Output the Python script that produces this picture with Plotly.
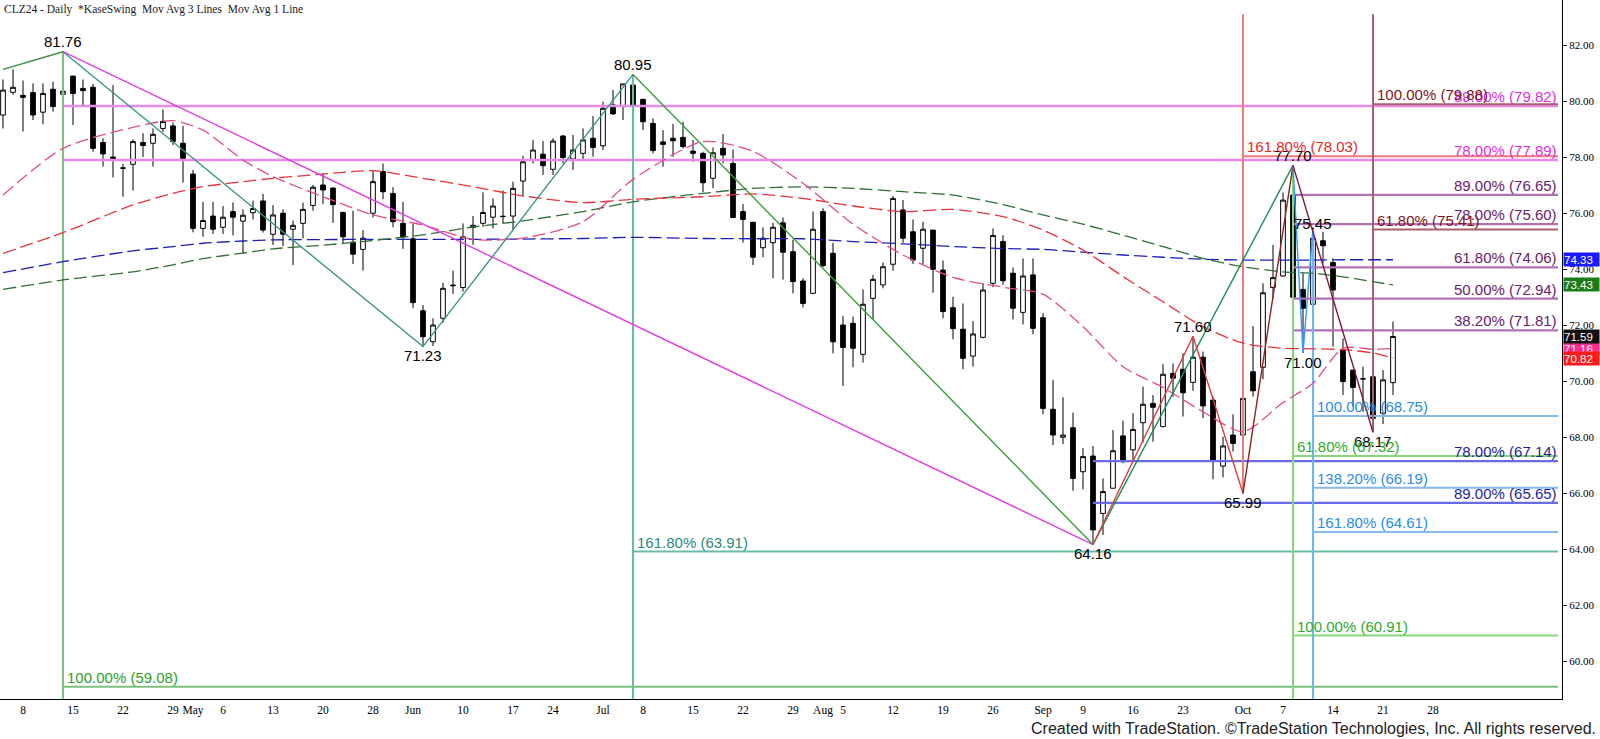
import plotly.graph_objects as go
import pandas as pd

# ---------------- data ----------------
holidays = ["2024-05-27", "2024-06-19", "2024-07-04", "2024-09-02"]
session_dates = [d.strftime("%Y-%m-%d") for d in pd.bdate_range("2024-04-04", "2024-11-29")
                 if d.strftime("%Y-%m-%d") not in holidays]

opens = [79.50, 80.31, 80.20, 80.30, 79.60, 80.42, 80.24, 80.89, 80.45, 80.49,
         78.52, 78.00, 77.61, 77.74, 78.52, 78.49, 79.02, 79.11, 78.49, 77.39,
         75.45, 75.89, 75.49, 76.05, 75.71, 76.01, 76.43, 75.24, 75.99, 75.42,
         75.63, 76.27, 77.00, 76.89, 76.02, 74.96, 74.70, 75.99, 77.48, 76.70,
         75.63, 75.08, 72.51, 71.40, 72.24, 73.40, 73.34, 75.48, 75.63, 75.85,
         75.87, 75.89, 77.14, 77.89, 78.10, 77.56, 78.75, 77.93, 78.13, 78.67,
         78.40, 79.86, 79.80, 80.57, 80.06, 79.20, 78.54, 78.67, 78.70, 78.21,
         78.13, 77.24, 78.31, 77.77, 76.05, 75.67, 74.76, 74.94, 75.65, 74.62,
         73.57, 73.13, 76.05, 74.56, 72.00, 72.06, 70.95, 72.95, 73.43, 74.17,
         76.11, 75.33, 74.74, 75.39, 73.96, 72.62, 71.85, 70.89, 71.56, 73.49,
         74.98, 73.85, 72.45, 73.79, 72.26, 68.99, 67.99, 68.33, 66.76, 67.32,
         65.27, 66.17, 68.04, 67.54, 68.51, 69.20, 68.37, 70.27, 70.42, 69.95,
         70.85, 69.32, 66.96, 68.07, 68.07, 70.33, 70.49, 73.34, 73.75, 76.64,
         73.27, 72.74, 75.01, 74.23, 71.11, 70.39, 70.07, 70.15, 68.85, 69.94]
highs = [80.77, 81.13, 80.73, 80.63, 80.63, 80.69, 81.76, 80.89, 80.77, 80.61,
         78.67, 80.57, 77.75, 78.63, 78.85, 79.02, 79.70, 79.23, 79.11, 77.54,
         76.40, 76.40, 76.25, 76.38, 76.13, 76.44, 76.68, 76.28, 76.13, 75.73,
         76.37, 77.00, 77.42, 76.92, 76.05, 76.08, 75.39, 77.51, 77.77, 76.92,
         76.40, 75.61, 72.71, 72.24, 73.51, 73.94, 75.63, 75.89, 76.74, 76.52,
         76.80, 77.12, 78.04, 78.61, 78.57, 78.67, 78.79, 78.79, 79.02, 79.46,
         79.98, 80.39, 80.61, 80.95, 80.06, 79.38, 78.96, 79.18, 79.26, 78.61,
         78.19, 78.34, 78.82, 78.27, 76.32, 75.67, 75.49, 75.65, 75.84, 75.04,
         73.67, 76.05, 76.17, 74.94, 72.32, 72.30, 73.27, 73.79, 74.23, 76.61,
         76.46, 75.77, 75.69, 75.39, 74.30, 73.01, 72.77, 72.14, 73.49, 75.45,
         75.21, 74.05, 74.38, 74.38, 72.42, 70.04, 69.42, 68.87, 67.60, 67.68,
         66.52, 68.25, 68.58, 68.85, 69.80, 69.50, 70.60, 70.63, 70.99, 71.60,
         71.05, 69.44, 68.01, 68.81, 71.35, 71.96, 73.49, 74.86, 76.73, 77.70,
         73.85, 75.45, 75.33, 74.38, 71.52, 70.39, 70.51, 70.51, 70.39, 72.12]
lows = [79.02, 80.22, 78.91, 79.32, 79.17, 79.62, 80.04, 79.14, 79.82, 78.19,
        77.66, 77.27, 76.58, 76.80, 78.00, 77.66, 78.90, 78.43, 77.08, 75.31,
        75.15, 75.25, 75.25, 75.20, 74.54, 75.77, 75.30, 74.86, 74.82, 74.14,
        75.09, 76.08, 76.32, 75.65, 74.92, 74.18, 73.94, 75.84, 76.49, 75.49,
        74.72, 72.60, 71.23, 71.25, 72.08, 73.11, 73.19, 74.86, 75.51, 75.45,
        75.63, 75.39, 76.58, 77.77, 77.36, 77.36, 77.77, 77.54, 77.89, 78.01,
        78.25, 79.50, 79.32, 79.74, 78.96, 78.13, 77.65, 78.01, 78.31, 77.83,
        76.74, 76.88, 77.77, 75.81, 74.94, 74.14, 74.42, 73.67, 73.62, 73.13,
        72.63, 73.11, 74.06, 70.99, 69.82, 70.49, 70.66, 72.20, 73.31, 73.94,
        74.94, 74.18, 74.18, 73.15, 72.24, 71.49, 70.42, 70.51, 71.52, 73.35,
        73.43, 72.20, 72.02, 71.67, 68.81, 67.71, 67.75, 66.08, 66.13, 64.16,
        64.50, 66.17, 67.06, 67.18, 67.80, 67.83, 68.35, 69.44, 68.73, 69.65,
        68.67, 66.49, 66.56, 67.48, 65.99, 69.44, 70.06, 72.95, 73.73, 72.06,
        71.00, 72.71, 74.20, 71.23, 69.50, 69.08, 68.90, 68.17, 68.46, 69.50]
closes = [80.39, 80.49, 80.13, 79.50, 80.27, 79.80, 80.35, 80.27, 80.37, 78.31,
          78.11, 77.95, 77.60, 78.55, 78.41, 78.81, 79.27, 78.55, 77.95, 75.45,
          75.73, 75.42, 75.85, 75.85, 75.92, 76.16, 75.39, 75.93, 75.24, 75.56,
          76.13, 76.92, 76.82, 76.30, 75.15, 74.53, 75.10, 77.12, 76.76, 75.69,
          75.15, 72.80, 71.58, 72.00, 73.31, 73.42, 75.15, 75.56, 76.02, 76.25,
          75.88, 76.88, 77.83, 78.25, 77.69, 78.57, 77.98, 78.25, 78.61, 78.34,
          79.74, 79.54, 80.61, 79.82, 79.26, 78.23, 78.45, 78.58, 78.37, 78.13,
          77.08, 78.15, 78.07, 75.84, 75.77, 74.42, 75.10, 75.49, 74.60, 73.55,
          72.77, 75.42, 74.12, 71.40, 71.20, 71.17, 72.74, 73.63, 74.08, 76.52,
          75.10, 74.32, 75.42, 73.99, 72.48, 71.87, 70.81, 71.68, 73.25, 75.20,
          73.58, 72.60, 73.75, 71.88, 69.02, 68.07, 68.07, 66.52, 67.30, 64.68,
          66.05, 67.51, 67.12, 68.27, 69.17, 69.06, 70.24, 70.10, 69.58, 70.85,
          69.11, 67.15, 67.68, 67.77, 69.38, 69.65, 73.15, 73.69, 76.46, 72.99,
          72.60, 75.10, 74.83, 73.25, 69.98, 69.77, 70.08, 68.67, 70.04, 71.59]

tick_dates = ["2024-04-08", "2024-04-15", "2024-04-22", "2024-04-29", "2024-05-01", "2024-05-06",
              "2024-05-13", "2024-05-20", "2024-05-28", "2024-06-03", "2024-06-10", "2024-06-17",
              "2024-06-24", "2024-07-01", "2024-07-08", "2024-07-15", "2024-07-22", "2024-07-29",
              "2024-08-01", "2024-08-05", "2024-08-12", "2024-08-19", "2024-08-26", "2024-09-03",
              "2024-09-09", "2024-09-16", "2024-09-23", "2024-10-01", "2024-10-07", "2024-10-14",
              "2024-10-21", "2024-10-28"]
tick_text = ["8", "15", "22", "29", "May", "6", "13", "20", "28", "Jun", "10", "17", "24", "Jul",
             "8", "15", "22", "29", "Aug", "5", "12", "19", "26", "Sep", "9", "16", "23", "Oct",
             "7", "14", "21", "28"]
price_ticks = [60, 62, 64, 66, 68, 70, 72, 74, 76, 78, 80, 82]

# moving averages (at sample sessions)
ma_dates = ["2024-04-04", "2024-04-12", "2024-04-23", "2024-04-29", "2024-05-02", "2024-05-08",
            "2024-05-13", "2024-05-20", "2024-05-28", "2024-06-04", "2024-06-11", "2024-06-18",
            "2024-06-27", "2024-07-05", "2024-07-16", "2024-07-23", "2024-07-30", "2024-08-06",
            "2024-08-13", "2024-08-20", "2024-08-27", "2024-09-03", "2024-09-09", "2024-09-13",
            "2024-09-19", "2024-09-25", "2024-10-01", "2024-10-07", "2024-10-10", "2024-10-15",
            "2024-10-18", "2024-10-22"]
ma_blue = [73.87, 74.26, 74.65, 74.80, 74.92, 75.00, 75.04, 75.05, 75.06, 75.06, 75.06, 75.07,
           75.09, 75.13, 75.09, 75.08, 75.08, 74.98, 74.90, 74.80, 74.73, 74.70, 74.60, 74.50,
           74.42, 74.35, 74.32, 74.32, 74.32, 74.33, 74.33, 74.33]
ma_green = [73.27, 73.61, 73.90, 74.15, 74.37, 74.57, 74.72, 74.85, 75.02, 75.22, 75.50, 75.72,
            76.05, 76.40, 76.70, 76.88, 76.93, 76.88, 76.76, 76.64, 76.30, 75.93, 75.60, 75.21,
            74.80, 74.38, 74.08, 73.90, 73.85, 73.72, 73.55, 73.43]
ma_red = [74.56, 75.30, 76.29, 76.70, 76.94, 77.12, 77.24, 77.39, 77.51, 77.24, 76.94, 76.61,
          76.37, 76.49, 76.58, 76.68, 76.52, 76.25, 76.05, 76.13, 75.87, 75.39, 74.68, 73.73,
          72.83, 71.94, 71.35, 71.17, 71.15, 71.12, 71.00, 70.82]
ma_pink = [76.64, 78.31, 79.06, 79.30, 78.96, 77.89, 77.30, 76.58, 75.93, 75.57, 75.06, 75.10,
           75.69, 77.20, 78.55, 78.20, 77.06, 75.60, 74.50, 73.70, 73.35, 73.10, 71.94, 70.51,
           69.77, 68.90, 68.19, 69.23, 69.92, 71.17, 71.13, 71.16]
ma_last = [74.33, 73.43, 71.16, 70.82]

# swing points
swing_dates = ["2024-04-12", "2024-06-04", "2024-07-05", "2024-09-10", "2024-09-24",
               "2024-10-01", "2024-10-08", "2024-10-09", "2024-10-10", "2024-10-18"]
swing_prices = [81.76, 71.23, 80.95, 64.16, 71.60, 65.99, 77.70, 71.00, 75.45, 68.17]
swing_side = ["high", "low", "high", "low", "high", "low", "high", "low", "mid", "low"]

# swing legs
leg_names = ["prior", "teal", "magenta", "green", "green2", "red", "darkred", "blue", "maroon"]
leg_dates = [["2024-04-04", "2024-04-12"],
             ["2024-04-12", "2024-06-04", "2024-07-05"],
             ["2024-04-12", "2024-09-10"],
             ["2024-07-05", "2024-09-10"],
             ["2024-09-10", "2024-10-08"],
             ["2024-09-10", "2024-09-24", "2024-10-01"],
             ["2024-10-01", "2024-10-08"],
             ["2024-10-08", "2024-10-09", "2024-10-10"],
             ["2024-10-08", "2024-10-18"]]
leg_prices = [[81.13, 81.76],
              [81.76, 71.23, 80.95],
              [81.76, 64.16],
              [80.95, 64.16],
              [64.16, 77.70],
              [64.16, 71.60, 65.99],
              [65.99, 77.70],
              [77.70, 71.00, 75.45],
              [77.70, 68.17]]

# Fibonacci levels
fib_group = ["mag", "mag", "grn", "teal", "red", "maroon", "maroon",
             "purple", "purple", "purple", "purple", "purple",
             "lgreen", "lgreen", "lblue", "lblue", "lblue", "dblue", "dblue"]
fib_price = [79.82, 77.89, 59.08, 63.91, 78.03, 79.88, 75.41,
             76.65, 75.60, 74.06, 72.94, 71.81,
             67.32, 60.91, 68.75, 66.19, 64.61, 67.14, 65.65]
fib_text = ["89.00% (79.82)", "78.00% (77.89)", "100.00% (59.08)", "161.80% (63.91)",
            "161.80% (78.03)", "100.00% (79.88)", "61.80% (75.41)",
            "89.00% (76.65)", "78.00% (75.60)", "61.80% (74.06)", "50.00% (72.94)", "38.20% (71.81)",
            "61.80% (67.32)", "100.00% (60.91)", "100.00% (68.75)", "138.20% (66.19)",
            "161.80% (64.61)", "78.00% (67.14)", "89.00% (65.65)"]
fib_start = ["2024-04-12", "2024-04-12", "2024-04-12", "2024-07-05", "2024-10-01", "2024-10-18",
             "2024-10-18", "2024-10-08", "2024-10-08", "2024-10-08", "2024-10-08", "2024-10-08",
             "2024-10-08", "2024-10-08", "2024-10-10", "2024-10-10", "2024-10-10",
             "2024-09-10", "2024-09-10"]

# vertical anchor lines (None = chart edge)
vline_group = ["grn", "teal", "red", "lgreen", "lblue", "maroon"]
vline_date = ["2024-04-12", "2024-07-05", "2024-10-01", "2024-10-08", "2024-10-10", "2024-10-18"]
vline_from = [81.76, 80.95, None, 77.70, 75.45, None]
vline_to = [None, None, 65.99, None, None, 68.17]

# ---------------- styles ----------------
Y_MIN, Y_MAX = 58.643, 83.607
Y_TOP_LINE = 83.10
X_MIN, X_MAX = -0.3, 155.9
LEVEL_END = 155.5
SANS = "Liberation Sans, Arial, sans-serif"
SERIF = "Liberation Serif, Times New Roman, serif"

line_col = {"mag": "#E68BE6", "grn": "#7CC07C", "teal": "#68BBA8", "red": "#EC7A7A",
            "maroon": "#A6606B", "purple": "#B071B0", "lgreen": "#86D67A", "lblue": "#86BBE8",
            "dblue": "#6A6AE6"}
vline_col = dict(line_col, lblue="#6AB6F6")
text_col = {"mag": "#E22CE2", "grn": "#2E9E2E", "teal": "#2A8A7A", "red": "#E62828",
            "maroon": "#7A1420", "purple": "#6A226A", "lgreen": "#2EAA2E", "lblue": "#2A8CE6",
            "dblue": "#1E1E96"}
label_align = {"mag": "right", "grn": "left", "teal": "left", "red": "left", "maroon": "left",
               "purple": "right", "lgreen": "left", "lblue": "left", "dblue": "right"}
line_w = {"mag": 2.5, "grn": 2.2, "teal": 2, "red": 2, "maroon": 2, "purple": 2.2,
          "lgreen": 2, "lblue": 2, "dblue": 2.2}
leg_col = {"prior": "#3C8C48", "teal": "#3C9488", "magenta": "#E040E0", "green": "#3C9E3C",
           "green2": "#1E8C56", "red": "#E03C3C", "darkred": "#8C2424", "blue": "#3399FF",
           "maroon": "#7A1A36"}
ma_style = [("#1E1EB4", ma_blue), ("#2F6F3A", ma_green), ("#E8323C", ma_red), ("#E44C8C", ma_pink)]
box_col = ["#1A1AFF", "#1B7B1B", "#FF2E8C", "#FF1A1A"]

pos = {d: i for i, d in enumerate(session_dates)}
ix = lambda d: pos[d]
xi = list(range(len(opens)))

fig = go.Figure()

# horizontal fib levels
for g in line_col:
    xs, ys = [], []
    for grp, p, s in zip(fib_group, fib_price, fib_start):
        if grp == g:
            xs += [ix(s), LEVEL_END, None]
            ys += [p, p, None]
    for grp, d, a, b in zip(vline_group, vline_date, vline_from, vline_to):
        if grp == g:
            pass
    if xs:
        fig.add_trace(go.Scatter(x=xs, y=ys, mode="lines", line=dict(color=line_col[g], width=line_w[g]),
                                 hoverinfo="skip", showlegend=False))

# vertical lines
for g, d, a, b in zip(vline_group, vline_date, vline_from, vline_to):
    top = Y_TOP_LINE if a is None else a
    bot = Y_MIN if b is None else b
    fig.add_trace(go.Scatter(x=[ix(d), ix(d)], y=[top, bot], mode="lines",
                             line=dict(color=vline_col[g], width=2), hoverinfo="skip", showlegend=False))

# moving averages
ma_x = [ix(d) for d in ma_dates]
for col, vals in ma_style:
    fig.add_trace(go.Scatter(x=ma_x, y=vals, mode="lines", line=dict(color=col, width=1.3, dash="13px,5px",
                             shape="spline", smoothing=0.7), hoverinfo="skip", showlegend=False))

# swing legs
for name, ds, ps in zip(leg_names, leg_dates, leg_prices):
    fig.add_trace(go.Scatter(x=[ix(d) for d in ds], y=ps, mode="lines",
                             line=dict(color=leg_col[name], width=1.4), hoverinfo="skip", showlegend=False))

# candles
fig.add_trace(go.Candlestick(
    x=xi, open=opens, high=highs, low=lows, close=closes,
    increasing=dict(line=dict(color="black", width=1), fillcolor="white"),
    decreasing=dict(line=dict(color="black", width=1), fillcolor="black"),
    whiskerwidth=0, hoverinfo="skip", showlegend=False))

ann = []
# swing labels
for d, p, side in zip(swing_dates, swing_prices, swing_side):
    shift = {"high": 10, "low": -9, "mid": 4.5}[side]
    ann.append(dict(x=ix(d), y=p, xref="x", yref="y", text=f"{p:.2f}", showarrow=False,
                    xanchor="center", yanchor="middle", yshift=shift, borderpad=0,
                    font=dict(family=SANS, size=15, color="black")))
# fib labels
for grp, p, t, s in zip(fib_group, fib_price, fib_text, fib_start):
    if label_align[grp] == "left":
        ann.append(dict(x=ix(s), y=p, xref="x", yref="y", text=t, showarrow=False, xanchor="left",
                        xshift=3, yanchor="middle", yshift=9.5, borderpad=0,
                        font=dict(family=SANS, size=15, color=text_col[grp])))
    else:
        ann.append(dict(x=LEVEL_END, y=p, xref="x", yref="y", text=t, showarrow=False, xanchor="right",
                        yanchor="middle", yshift=9.5, borderpad=0,
                        font=dict(family=SANS, size=15, color=text_col[grp])))
# last-value boxes on the price scale
for v, c in zip(ma_last, box_col):
    ann.append(dict(x=1.0006, y=v, xref="paper", yref="y", text=f"{v:.2f}", showarrow=False,
                    xanchor="left", yanchor="middle", bgcolor=c, borderpad=0, width=35, height=13,
                    align="left", font=dict(family=SANS, size=11.5, color="white")))
ann.append(dict(x=1.0006, y=closes[-1], xref="paper", yref="y", text=f"{closes[-1]:.2f}", showarrow=False,
                xanchor="left", yanchor="middle", bgcolor="#111111", borderpad=0, width=35, height=13,
                align="left", font=dict(family=SANS, size=11.5, color="white")))
# title & credit
ann.append(dict(x=2 / 1562, y=1 - 9 / 699, xref="paper", yref="paper", showarrow=False,
                text="CLZ24 - Daily\u00a0\u00a0*KaseSwing\u00a0\u00a0Mov Avg 3 Lines\u00a0\u00a0Mov Avg 1 Line",
                xanchor="left", yanchor="middle", font=dict(family=SERIF, size=11.5, color="#1a1a1a")))
ann.append(dict(x=1598 / 1562, y=-29 / 699, xref="paper", yref="paper", showarrow=False,
                text="Created with TradeStation. ©TradeStation Technologies, Inc. All rights reserved.",
                xanchor="right", yanchor="middle", font=dict(family=SANS, size=16, color="#222222")))

fig.update_layout(
    width=1600, height=739, margin=dict(l=0, r=38, t=0, b=40),
    paper_bgcolor="white", plot_bgcolor="white", annotations=ann, boxgap=0.33,
    xaxis=dict(range=[X_MIN, X_MAX], showgrid=False, zeroline=False, showline=True, linecolor="black",
               linewidth=1, tickvals=[ix(d) for d in tick_dates], ticktext=tick_text, ticks="",
               tickfont=dict(family=SERIF, size=11.5, color="black"), rangeslider=dict(visible=False),
               fixedrange=True),
    yaxis=dict(range=[Y_MIN, Y_MAX], side="right", showgrid=False, zeroline=False, showline=True,
               linecolor="black", linewidth=1, tickvals=price_ticks,
               ticktext=[f"{v:.2f}" for v in price_ticks], ticks="outside", ticklen=4, tickcolor="black",
               tickfont=dict(family=SERIF, size=11, color="black"), fixedrange=True),
)

fig.write_html("out.html", config={"displayModeBar": False},
               post_script="document.body.style.margin='0';document.body.style.overflow='hidden';")
